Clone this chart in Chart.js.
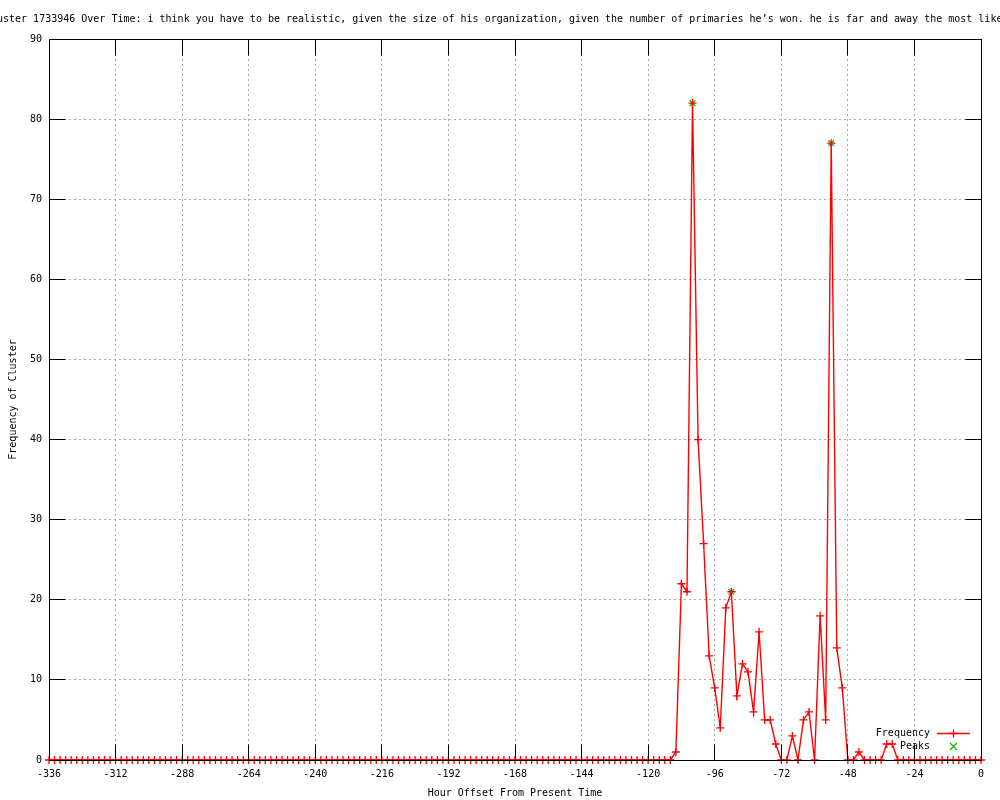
<!DOCTYPE html>
<html>
<head>
<meta charset="utf-8">
<script src="https://cdn.jsdelivr.net/npm/chart.js"></script>
<style>
  html, body { margin: 0; padding: 0; background: #ffffff; }
  #wrap { width: 1000px; height: 800px; position: relative; }
</style>
</head>
<body>
<div id="wrap"><canvas id="c" width="1000" height="800"></canvas></div>
<script>
// ---- data ----
const chartTitle = "Frequency of Cluster 1733946 Over Time: i think you have to be realistic, given the size of his organization, given the number of primaries he\u2019s won. he is far and away the most likely";
const xAxisTitle = "Hour Offset From Present Time";
const yAxisTitle = "Frequency of Cluster";

const hours = [
  -336,-334,-332,-330,-328,-326,-324,-322,-320,-318,-316,-314,
  -312,-310,-308,-306,-304,-302,-300,-298,-296,-294,-292,-290,
  -288,-286,-284,-282,-280,-278,-276,-274,-272,-270,-268,-266,
  -264,-262,-260,-258,-256,-254,-252,-250,-248,-246,-244,-242,
  -240,-238,-236,-234,-232,-230,-228,-226,-224,-222,-220,-218,
  -216,-214,-212,-210,-208,-206,-204,-202,-200,-198,-196,-194,
  -192,-190,-188,-186,-184,-182,-180,-178,-176,-174,-172,-170,
  -168,-166,-164,-162,-160,-158,-156,-154,-152,-150,-148,-146,
  -144,-142,-140,-138,-136,-134,-132,-130,-128,-126,-124,-122,
  -120,-118,-116,-114,-112,-110,-108,-106,-104,-102,-100,-98,
  -96,-94,-92,-90,-88,-86,-84,-82,-80,-78,-76,-74,
  -72,-70,-68,-66,-64,-62,-60,-58,-56,-54,-52,-50,
  -48,-46,-44,-42,-40,-38,-36,-34,-32,-30,-28,-26,
  -24,-22,-20,-18,-16,-14,-12,-10,-8,-6,-4,-2,
  0
];
const frequency = [
  0,0,0,0,0,0,0,0,0,0,0,0,
  0,0,0,0,0,0,0,0,0,0,0,0,
  0,0,0,0,0,0,0,0,0,0,0,0,
  0,0,0,0,0,0,0,0,0,0,0,0,
  0,0,0,0,0,0,0,0,0,0,0,0,
  0,0,0,0,0,0,0,0,0,0,0,0,
  0,0,0,0,0,0,0,0,0,0,0,0,
  0,0,0,0,0,0,0,0,0,0,0,0,
  0,0,0,0,0,0,0,0,0,0,0,0,
  0,0,0,0,0,1,22,21,82,40,27,13,
  9,4,19,21,8,12,11,6,16,5,5,2,
  0,0,3,0,5,6,0,18,5,77,14,9,
  0,0,1,0,0,0,0,2,2,0,0,0,
  0,0,0,0,0,0,0,0,0,0,0,0,
  0
];
const peakHours = [-104, -90, -54];
const peakValues = [82, 21, 77];

const xTickMin = -336, xTickMax = 0, xTickStep = 24;
const yTickMin = 0, yTickMax = 90, yTickStep = 10;

// ---- styles ----
const FONT = '"DejaVu Sans Mono", "Liberation Mono", monospace';
const RED = '#ff0000';
const GREEN = '#00c000';
const seriesColors = [RED, GREEN];

const freqData = hours.map((h, i) => ({ x: h, y: frequency[i] }));
const peakData = peakHours.map((h, i) => ({ x: h, y: peakValues[i] }));

function crossAt(ctx, x, y, r) {
  ctx.beginPath();
  ctx.moveTo(x - r, y); ctx.lineTo(x + r, y);
  ctx.moveTo(x, y - r); ctx.lineTo(x, y + r);
  ctx.stroke();
}
function xAt(ctx, x, y, r) {
  ctx.beginPath();
  ctx.moveTo(x - r, y - r); ctx.lineTo(x + r, y + r);
  ctx.moveTo(x - r, y + r); ctx.lineTo(x + r, y - r);
  ctx.stroke();
}

const framePlugin = {
  id: 'frame',
  afterDatasetsDraw(chart) {
    const { ctx, chartArea: a, scales } = chart;
    const L = Math.floor(a.left) + 0.5, R = Math.floor(a.right) + 0.5;
    const T = Math.floor(a.top) + 0.5, B = Math.floor(a.bottom) + 0.5;
    ctx.save();
    ctx.strokeStyle = '#000000';
    ctx.lineWidth = 1;
    ctx.setLineDash([]);
    const tl = 16;
    scales.x.ticks.forEach(t => {
      const px = Math.floor(scales.x.getPixelForValue(t.value)) + 0.5;
      ctx.beginPath();
      ctx.moveTo(px, B); ctx.lineTo(px, B - tl);
      ctx.moveTo(px, T); ctx.lineTo(px, T + tl);
      ctx.stroke();
    });
    scales.y.ticks.forEach(t => {
      const py = Math.floor(scales.y.getPixelForValue(t.value)) + 0.5;
      ctx.beginPath();
      ctx.moveTo(L, py); ctx.lineTo(L + tl, py);
      ctx.moveTo(R, py); ctx.lineTo(R - tl, py);
      ctx.stroke();
    });
    ctx.beginPath();
    ctx.rect(L, T, R - L, B - T);
    ctx.stroke();
    ctx.restore();
  },
  afterDraw(chart) {
    const { ctx, chartArea: a } = chart;
    ctx.save();
    ctx.font = '10px ' + FONT;
    ctx.fillStyle = '#000000';
    ctx.textBaseline = 'middle';
    // title (wider than the canvas, cropped on both sides)
    ctx.textAlign = 'left';
    const pre = ctx.measureText('Frequency of Cl').width;
    ctx.fillText(chartTitle, -3 - pre, 19);
    // legend (inside plot, bottom right)
    const ds = chart.data.datasets;
    const textRight = a.right - 51;
    const sx0 = a.right - 44, sx1 = a.right - 11, sxm = (sx0 + sx1) / 2;
    const rows = [a.bottom - 27, a.bottom - 14];
    ctx.textAlign = 'right';
    ds.forEach((d, i) => {
      const y = Math.floor(rows[i]) + 0.5;
      ctx.fillStyle = '#000000';
      ctx.fillText(d.label, textRight, rows[i]);
      ctx.strokeStyle = seriesColors[i];
      ctx.lineWidth = 1.3;
      if (i === 0) {
        ctx.beginPath();
        ctx.moveTo(sx0, y); ctx.lineTo(sx1, y);
        ctx.stroke();
        crossAt(ctx, Math.floor(sxm) + 0.5, y, 4);
      } else {
        xAt(ctx, Math.floor(sxm) + 0.5, y, 3.5);
      }
    });
    ctx.restore();
  }
};

new Chart(document.getElementById('c'), {
  type: 'line',
  data: {
    datasets: [
      {
        label: 'Frequency',
        data: freqData,
        borderColor: RED,
        backgroundColor: RED,
        borderWidth: 1.4,
        tension: 0,
        fill: false,
        pointStyle: 'cross',
        pointRadius: 4,
        pointBorderWidth: 1.3,
        pointBorderColor: RED,
        pointHoverRadius: 4,
        clip: false
      },
      {
        label: 'Peaks',
        data: peakData,
        showLine: false,
        borderColor: GREEN,
        backgroundColor: GREEN,
        pointStyle: 'crossRot',
        pointRadius: 4,
        pointBorderWidth: 1.3,
        pointBorderColor: GREEN,
        clip: false
      }
    ]
  },
  options: {
    responsive: false,
    animation: false,
    devicePixelRatio: 1,
    events: [],
    layout: { padding: { top: 39, right: 19, bottom: 0, left: 0 } },
    plugins: {
      legend: { display: false },
      title: { display: false },
      tooltip: { enabled: false }
    },
    scales: {
      x: {
        type: 'linear',
        min: xTickMin, max: xTickMax,
        afterFit(scale) { scale.height = 40; },
        ticks: {
          stepSize: xTickStep,
          autoSkip: false,
          maxRotation: 0,
          padding: 8,
          color: '#000000',
          font: { family: FONT, size: 10 }
        },
        grid: {
          color: '#a8a8a8',
          lineWidth: 1,
          drawTicks: false
        },
        border: { display: false, dash: [2, 3] },
        title: {
          display: true,
          text: xAxisTitle,
          color: '#000000',
          font: { family: FONT, size: 10, lineHeight: 1.2 },
          padding: { top: 0, bottom: 1 }
        }
      },
      y: {
        type: 'linear',
        min: yTickMin, max: yTickMax,
        afterFit(scale) { scale.width = 49; },
        ticks: {
          stepSize: yTickStep,
          padding: 7,
          color: '#000000',
          font: { family: FONT, size: 10 }
        },
        grid: {
          color: '#a8a8a8',
          lineWidth: 1,
          drawTicks: false
        },
        border: { display: false, dash: [2, 3] },
        title: {
          display: true,
          text: yAxisTitle,
          color: '#000000',
          font: { family: FONT, size: 10, lineHeight: 1.2 },
          padding: { top: 7, bottom: 0 }
        }
      }
    }
  },
  plugins: [framePlugin]
});
</script>
</body>
</html>
